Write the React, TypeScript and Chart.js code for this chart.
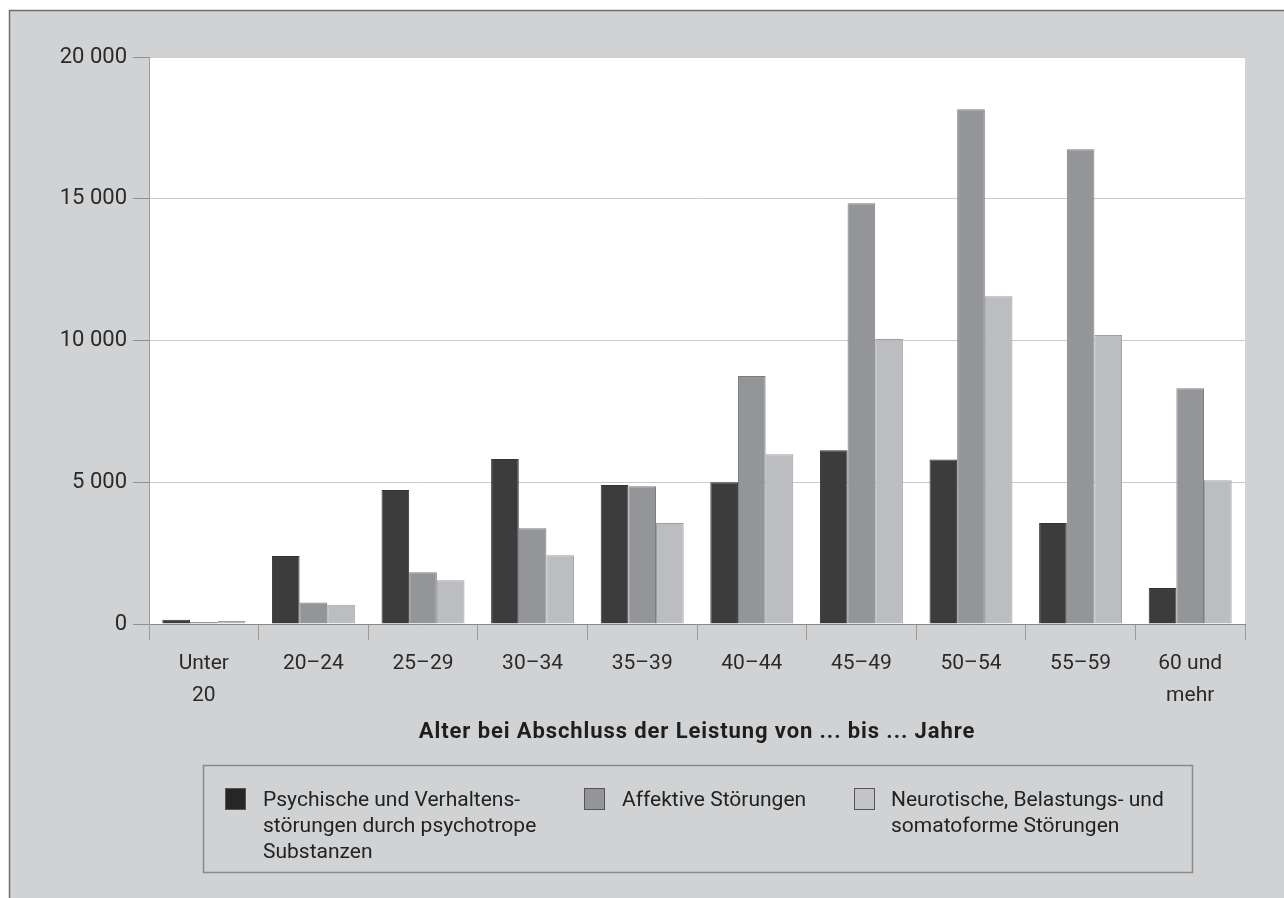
import React, { useEffect, useRef } from "react";
import { Chart, registerables } from "chart.js";

Chart.register(...registerables);

// ---- Data ----
const categories: (string | string[])[] = [
  ["Unter", "20"],
  "20–24",
  "25–29",
  "30–34",
  "35–39",
  "40–44",
  "45–49",
  "50–54",
  "55–59",
  ["60 und", "mehr"],
];
const substanzen = [150, 2400, 4730, 5820, 4905, 5000, 6130, 5800, 3565, 1270];
const affektive = [70, 760, 1825, 3380, 4860, 8750, 14845, 18160, 16750, 8315];
const neurotische = [105, 680, 1545, 2425, 3565, 5990, 10055, 11565, 10190, 5070];

const seriesLabels: string[][] = [
  ["Psychische und Verhaltens-", "störungen durch psychotrope", "Substanzen"],
  ["Affektive Störungen"],
  ["Neurotische, Belastungs- und", "somatoforme Störungen"],
];
const seriesColors = ["#3c3c3c", "#949598", "#bcbdc1"];
const seriesBorders = ["#333333", "#7b7c7f", "#9d9ea1"];
const legendSwatches = ["#262626", "#949598", "#c4c5c8"];

const yMin = 0;
const yMax = 20000;
const yStep = 5000;
const xTitle = "Alter bei Abschluss der Leistung von ... bis ... Jahre";

const W = 1284;
const H = 898;
const FONT = "Roboto, 'Noto Sans', sans-serif";

function fmt(v: number): string {
  return String(v).replace(/\B(?=(\d{3})+(?!\d))/g, " ");
}

const framePlugin = {
  id: "frame",
  beforeDraw(chart: any) {
    const ctx = chart.ctx as CanvasRenderingContext2D;
    ctx.save();
    ctx.fillStyle = "#ffffff";
    ctx.fillRect(0, 0, W, H);
    ctx.fillStyle = "#d1d2d4";
    ctx.fillRect(9, 10, W - 9, H - 10);
    ctx.strokeStyle = "#6f6f6f";
    ctx.lineWidth = 1.5;
    ctx.beginPath();
    ctx.moveTo(9.5, H);
    ctx.lineTo(9.5, 10.5);
    ctx.lineTo(W, 10.5);
    ctx.stroke();
    const { left, top, right, bottom } = chart.chartArea;
    ctx.fillStyle = "#ffffff";
    ctx.fillRect(left, top, right - left, bottom - top);
    ctx.restore();
  },
  afterDraw(chart: any) {
    const ctx = chart.ctx as CanvasRenderingContext2D;
    const { left, right } = chart.chartArea;
    // axis title
    ctx.save();
    (ctx as any).letterSpacing = "0.9px";
    ctx.fillStyle = "#1e1e1e";
    ctx.font = `bold 22px ${FONT}`;
    ctx.textAlign = "center";
    ctx.textBaseline = "alphabetic";
    ctx.fillText(xTitle, (left + right) / 2, 738);
    ctx.restore();

    ctx.save();
    // legend box
    ctx.strokeStyle = "#8a8a8a";
    ctx.lineWidth = 1.5;
    ctx.strokeRect(203.5, 765.5, 989, 107);
    const boxX = [225, 584, 854];
    const textX = [263, 622, 891];
    const datasets = chart.data.datasets;
    datasets.forEach((_ds: any, i: number) => {
      ctx.fillStyle = legendSwatches[i];
      ctx.fillRect(boxX[i], 788, 21, 22);
      ctx.strokeStyle = "#555555";
      ctx.lineWidth = 1;
      ctx.strokeRect(boxX[i] + 0.5, 788.5, 20, 21);
      ctx.fillStyle = "#222222";
      ctx.font = `21px ${FONT}`;
      ctx.textBaseline = "alphabetic";
      ctx.textAlign = "left";
      const lines: string[] = seriesLabels[i];
      lines.forEach((ln, j) => {
        ctx.fillText(ln, textX[i], 806 + j * 26);
      });
    });
    ctx.restore();
  },
};

export default function App() {
  const ref = useRef<HTMLCanvasElement | null>(null);
  useEffect(() => {
    if (!ref.current) return;
    Chart.defaults.font.family = FONT;
    const chart = new Chart(ref.current, {
      type: "bar",
      data: {
        labels: categories as any,
        datasets: [
          { label: seriesLabels[0].join(" "), data: substanzen, backgroundColor: seriesColors[0], borderColor: seriesBorders[0], borderWidth: 1 },
          { label: seriesLabels[1].join(" "), data: affektive, backgroundColor: seriesColors[1], borderColor: seriesBorders[1], borderWidth: 1 },
          { label: seriesLabels[2].join(" "), data: neurotische, backgroundColor: seriesColors[2], borderColor: seriesBorders[2], borderWidth: 1 },
        ],
      },
      options: {
        responsive: false,
        animation: false,
        layout: { padding: { left: 9, right: 39, top: 57, bottom: 0 } },
        datasets: { bar: { categoryPercentage: 0.757, barPercentage: 1.0 } },
        plugins: {
          legend: { display: false },
          tooltip: { enabled: false },
        },
        scales: {
          x: {
            grid: {
              offset: true,
              drawOnChartArea: false,
              drawTicks: true,
              tickLength: 16,
              color: "#9a9a9a",
              tickColor: "#9a9a9a",
            },
            border: { color: "#8a8a8a", width: 1 },
            ticks: {
              color: "#2a2a2a",
              font: { size: 21, lineHeight: 1.52 },
              padding: 8,
              maxRotation: 0,
              autoSkip: false,
            },
            title: { display: false },
            afterFit(scale: any) {
              scale.height = 274;
            },
          },
          y: {
            min: yMin,
            max: yMax,
            grid: {
              color: "#cbcbcb",
              tickColor: "#8f8f8f",
              tickLength: 16,
              lineWidth: 1,
            },
            border: { color: "#9a9a9a", width: 1 },
            ticks: {
              stepSize: yStep,
              color: "#2a2a2a",
              font: { size: 22 },
              padding: 6,
              callback: (v: any) => fmt(Number(v)),
            },
            afterFit(scale: any) {
              scale.width = 140;
            },
          },
        },
      },
      plugins: [framePlugin],
    });
    return () => chart.destroy();
  }, []);
  return (
    <div style={{ position: "fixed", left: 0, top: 0, width: W, height: H }}>
      <canvas ref={ref} width={W} height={H} style={{ display: "block" }} />
    </div>
  );
}
